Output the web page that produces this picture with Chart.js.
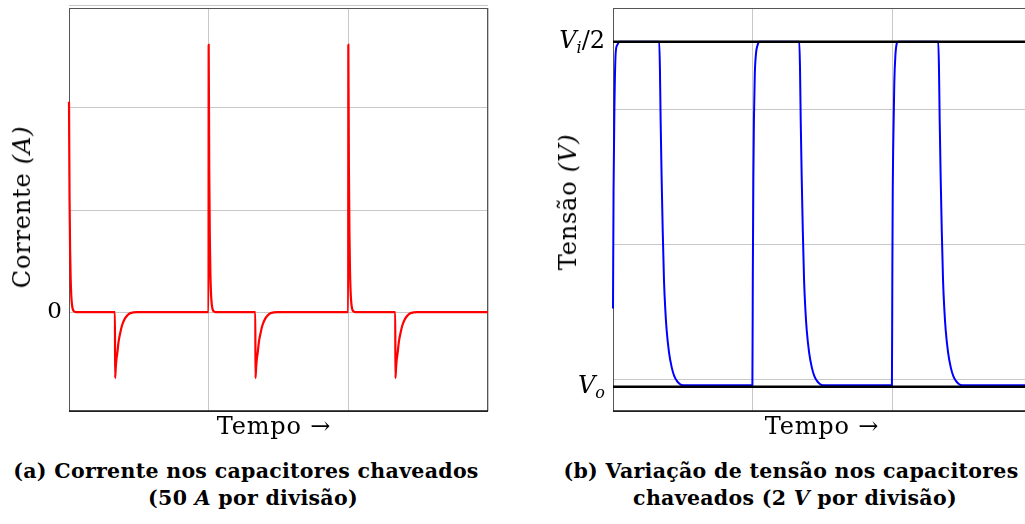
<!DOCTYPE html>
<html>
<head>
<meta charset="utf-8">
<script src="https://cdn.jsdelivr.net/npm/chart.js@4"></script>
<style>
html, body { margin: 0; padding: 0; background: #fff; overflow: hidden; }
#page { position: relative; width: 1025px; height: 524px; overflow: hidden; font-family: "DejaVu Serif", serif; color: #000; }
canvas { position: absolute; top: 0; }
.lbl { position: absolute; white-space: nowrap; line-height: 1; transform: translate(-50%, -50%); font-size: 24px; letter-spacing: 0.8px; }
.rot { transform: translate(-50%, -50%) rotate(-90deg); }
.cap { position: absolute; white-space: nowrap; line-height: 1; transform: translate(-50%, -50%); font-weight: bold; font-size: 20.5px; letter-spacing: 0.3px; }
</style>
</head>
<body>
<div id="page">
  <canvas id="currentChart" width="512" height="420" style="left:0"></canvas>
  <canvas id="voltageChart" width="530" height="420" style="left:512px"></canvas>

  <div class="lbl" style="left:274px;top:426px">Tempo →</div>
  <div class="lbl" style="left:822px;top:426px">Tempo →</div>
  <div class="lbl rot" style="left:22px;top:207px">Corrente <i>(A)</i></div>
  <div class="lbl rot" style="left:568px;top:202px">Tensão <i>(V)</i></div>

  <div class="cap" style="left:246px;top:471px">(a) Corrente nos capacitores chaveados</div>
  <div class="cap" style="left:253px;top:498px">(50 <i>A</i> por divisão)</div>
  <div class="cap" style="left:791px;top:471px">(b) Variação de tensão nos capacitores</div>
  <div class="cap" style="left:795px;top:498px">chaveados (2 <i>V</i> por divisão)</div>
</div>

<script>
// time axis, in switching periods
const periodTicks = [0, 1, 2, 3];

// (a) current, 50 A per division
const currentGrid = [0, 50, 100, 150];
const currentTime = [
  0, 0.004, 0.008, 0.012, 0.016, 0.02, 0.025, 0.03, 0.04, 0.05,
  0.329, 0.33, 0.335, 0.34, 0.346, 0.355, 0.366, 0.38, 0.401, 0.42, 0.437, 0.46, 0.485,
  0.999, 1.0, 1.004, 1.008, 1.012, 1.016, 1.02, 1.025, 1.03, 1.04, 1.05,
  1.334, 1.335, 1.34, 1.345, 1.351, 1.36, 1.371, 1.385, 1.406, 1.425, 1.442, 1.465, 1.49,
  1.999, 2.0, 2.004, 2.008, 2.012, 2.016, 2.02, 2.025, 2.03, 2.04, 2.05,
  2.336, 2.337, 2.342, 2.347, 2.353, 2.362, 2.373, 2.387, 2.408, 2.427, 2.444, 2.467, 2.492,
  3.0
];
const currentAmps = [
  103, 55, 30, 16, 8.5, 4.5, 2.0, 0.9, 0.2, 0,
  0, -32.4, -27, -23, -20, -14.5, -10.5, -6.5, -3.1, -1.5, -0.6, -0.2, 0,
  0, 131, 70, 38, 20, 10.5, 5.5, 2.4, 1.0, 0.2, 0,
  0, -32.4, -27, -23, -20, -14.5, -10.5, -6.5, -3.1, -1.5, -0.6, -0.2, 0,
  0, 131, 70, 38, 20, 10.5, 5.5, 2.4, 1.0, 0.2, 0,
  0, -32.4, -27, -23, -20, -14.5, -10.5, -6.5, -3.1, -1.5, -0.6, -0.2, 0,
  0
];

// (b) voltage, 2 V per division
const voltageGrid = [0, 2, 4];
const vHalf = 5.0;   // Vi/2
const vOut = -0.11;  // Vo
const voltageTime = [
  0, 0.004, 0.01, 0.019, 0.03, 0.048,
  0.331, 0.336, 0.341, 0.348, 0.356, 0.365, 0.374, 0.384, 0.401, 0.42, 0.438, 0.456, 0.478, 0.501,
  0.998, 1.001, 1.005, 1.009, 1.015, 1.024, 1.035, 1.05,
  1.334, 1.339, 1.344, 1.351, 1.359, 1.368, 1.377, 1.387, 1.404, 1.423, 1.441, 1.459, 1.481, 1.504,
  1.997, 2.0, 2.003, 2.006, 2.014, 2.022, 2.031, 2.04,
  2.329, 2.334, 2.339, 2.346, 2.354, 2.363, 2.372, 2.382, 2.399, 2.418, 2.436, 2.454, 2.476, 2.499,
  3.0
];
const voltageVolts = [
  1.05, 2.8, 4.0, 4.83, 4.95, 5.0,
  5.0, 4.6, 3.84, 3.0, 2.2, 1.47, 1.05, 0.73, 0.4, 0.18, 0.05, -0.02, -0.07, -0.09,
  -0.09, 1.5, 3.0, 3.84, 4.5, 4.83, 4.95, 5.0,
  5.0, 4.6, 3.84, 3.0, 2.2, 1.47, 1.05, 0.73, 0.4, 0.18, 0.05, -0.02, -0.07, -0.09,
  -0.09, 1.5, 2.8, 3.4, 4.39, 4.8, 4.97, 5.0,
  5.0, 4.6, 3.84, 3.0, 2.2, 1.47, 1.05, 0.73, 0.4, 0.18, 0.05, -0.02, -0.07, -0.09,
  -0.09
];
const voltageLevelLabels = [
  { value: vHalf, base: "V", sub: "i", tail: "/2" },
  { value: vOut, base: "V", sub: "o", tail: "" }
];

const serif = '"DejaVu Serif", serif';
const gridColor = "#c8c8c8";
const edgeClip = { left: 2, top: 2, right: 0, bottom: 2 };

function toPoints(xs, ys) {
  return xs.map((x, i) => ({ x: x, y: ys[i] }));
}

// box round the plot area, darker bottom axis
const frame = {
  id: "frame",
  beforeDatasetsDraw(chart) {
    const { ctx, chartArea: a } = chart;
    ctx.save();
    ctx.strokeStyle = "#555";
    ctx.lineWidth = 1;
    ctx.strokeRect(a.left + 0.5, a.top + 0.5, a.right - a.left - 1, a.bottom - a.top);
    ctx.strokeStyle = "#111";
    ctx.lineWidth = 1.6;
    ctx.beginPath();
    ctx.moveTo(a.left, a.bottom);
    ctx.lineTo(a.right, a.bottom);
    ctx.stroke();
    ctx.restore();
  }
};

// V_i/2 and V_o labels with subscripts
const levelLabels = {
  id: "levelLabels",
  afterDraw(chart) {
    const { ctx, chartArea: a } = chart;
    const y = chart.scales.y;
    ctx.save();
    ctx.fillStyle = "#000";
    ctx.textBaseline = "alphabetic";
    voltageLevelLabels.forEach(l => {
      const parts = [
        [l.base, "italic 24px " + serif, 0],
        [l.sub, "italic 16px " + serif, 5],
        [l.tail, "24px " + serif, 0]
      ];
      let w = 0;
      parts.forEach(p => { ctx.font = p[1]; w += ctx.measureText(p[0]).width; });
      let x = a.left - 8 - w;
      const base = y.getPixelForValue(l.value) + 6;
      parts.forEach(p => {
        ctx.font = p[1];
        ctx.fillText(p[0], x, base + p[2]);
        x += ctx.measureText(p[0]).width;
      });
    });
    ctx.restore();
  }
};

function timeAxis() {
  return {
    type: "linear",
    min: 0,
    max: 3,
    afterBuildTicks: s => { s.ticks = periodTicks.map(v => ({ value: v })); },
    ticks: { display: false },
    grid: { color: gridColor, lineWidth: 1, drawTicks: false },
    border: { display: false },
    afterFit: s => { s.height = 9; }
  };
}

new Chart(document.getElementById("currentChart"), {
  type: "line",
  data: {
    datasets: [{
      data: toPoints(currentTime, currentAmps),
      borderColor: "#ff0000",
      borderWidth: 2.2,
      pointRadius: 0,
      clip: edgeClip,
      cubicInterpolationMode: "monotone"
    }]
  },
  options: {
    responsive: false,
    animation: false,
    layout: { padding: { top: 8, right: 24, left: 0, bottom: 0 } },
    plugins: { legend: { display: false }, tooltip: { enabled: false } },
    scales: {
      x: timeAxis(),
      y: {
        min: -48.5,
        max: 149,
        afterBuildTicks: s => { s.ticks = currentGrid.map(v => ({ value: v })); },
        ticks: {
          padding: 7,
          color: "#000",
          font: { family: serif, size: 23 },
          callback: v => (v === 0 ? "0" : "")
        },
        grid: { color: gridColor, lineWidth: 1, drawTicks: false },
        border: { display: false },
        afterFit: s => {
          s.width = 69;
          s.paddingTop = 0;
          s.paddingBottom = 0;
        }
      }
    }
  },
  plugins: [frame]
});

new Chart(document.getElementById("voltageChart"), {
  type: "line",
  data: {
    datasets: [
      {
        data: toPoints([0, 3], [vHalf, vHalf]),
        borderColor: "#000",
        borderWidth: 2.5,
        pointRadius: 0
      },
      {
        data: toPoints([0, 3], [vOut, vOut]),
        borderColor: "#000",
        borderWidth: 2.5,
        pointRadius: 0
      },
      {
        data: toPoints(voltageTime, voltageVolts),
        borderColor: "#0000ff",
        borderWidth: 2,
        pointRadius: 0,
        clip: edgeClip,
        cubicInterpolationMode: "monotone"
      }
    ]
  },
  options: {
    responsive: false,
    animation: false,
    layout: { padding: { top: 8, right: 10, left: 0, bottom: 0 } },
    plugins: { legend: { display: false }, tooltip: { enabled: false } },
    scales: {
      x: timeAxis(),
      y: {
        min: -0.47,
        max: 5.5,
        afterBuildTicks: s => { s.ticks = voltageGrid.map(v => ({ value: v })); },
        ticks: { display: false },
        grid: { color: gridColor, lineWidth: 1, drawTicks: false },
        border: { display: false },
        afterFit: s => { s.width = 101; }
      }
    }
  },
  plugins: [frame, levelLabels]
});
</script>
</body>
</html>
